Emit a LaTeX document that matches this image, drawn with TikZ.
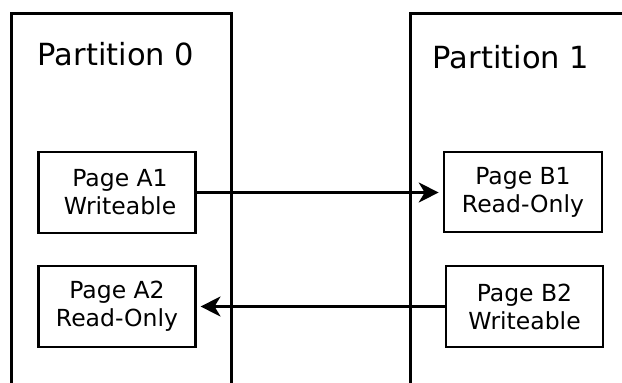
\documentclass[tikz,border=0pt]{standalone}
\usepackage{fontspec}
\setmainfont{DejaVu Sans}
\usetikzlibrary{arrows.meta}
\begin{document}
\begin{tikzpicture}[x=1pt,y=-1pt,line width=2.6pt,
  partbox/.style={draw,rectangle,line width=2.6pt,inner sep=0pt,anchor=north west},
  pagebox/.style={draw,rectangle,line width=2.6pt,inner sep=0pt,align=center,
    font=\fontsize{23.5}{28}\selectfont},
  parttitle/.style={inner sep=0pt,anchor=base,font=\fontsize{30.5}{36}\selectfont},
  link/.style={line width=2.4pt,-{Stealth[length=20pt,width=20pt,inset=6pt]},shorten >=4pt}]
  \useasboundingbox (0,0) rectangle (622,383);
  \clip (0,0) rectangle (622,383);
  % the two partitions run off the bottom (and the right) of the page
  \node[partbox,minimum width=220pt,minimum height=420pt] (p0) at (10,12) {};
  \node[partbox,minimum width=240pt,minimum height=420pt] (p1) at (409,12) {};
  \node[parttitle] (t0) at (116,65) {Partition 0};
  \node[parttitle] (t1) at (511,68) {Partition 1};
  % pages
  \node[pagebox,minimum width=156.5pt,minimum height=81pt] (a1) at (117,192.5) {\hspace*{6pt}Page A1\\\hspace*{6pt}Writeable};
  \node[pagebox,minimum width=156.5pt,minimum height=81pt] (a2) at (117,306.5) {Page A2\\Read-Only};
  \node[pagebox,minimum width=158pt,minimum height=80pt] (b1) at (523,192) {Page B1\\Read-Only};
  \node[pagebox,minimum width=157pt,minimum height=81pt] (b2) at (524.5,306.5) {Page B2\\Writeable};
  % sharing links
  \draw[link] (a1.east) -- (a1.east -| b1.west);
  \draw[link] (b2.west) -- (b2.west -| a2.east);
\end{tikzpicture}
\end{document}
